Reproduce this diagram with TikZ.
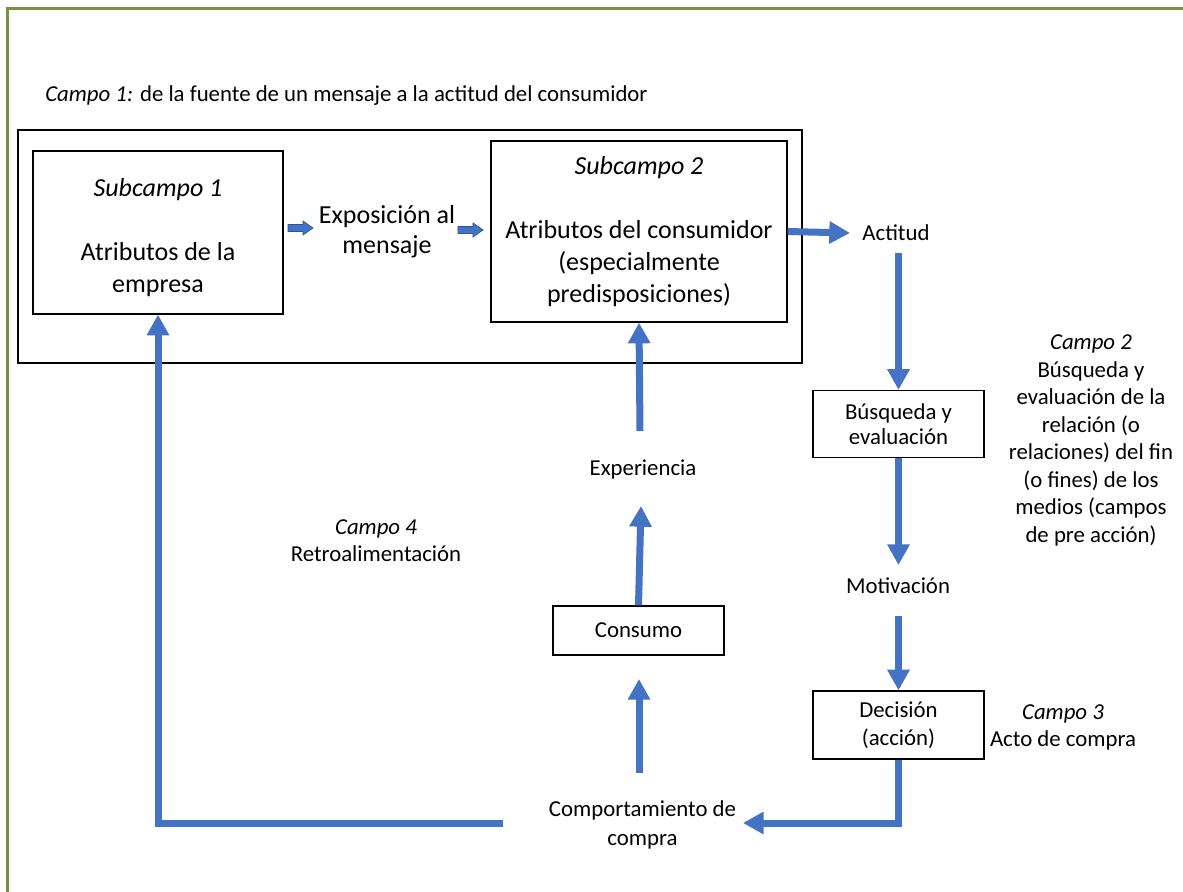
\documentclass[tikz,border=0pt]{standalone}
\usepackage{fontspec}
\setmainfont{Carlito}
\usetikzlibrary{arrows.meta,calc}
\newdimen\px \px=0.75pt
\definecolor{arrblue}{HTML}{4472C4}
\definecolor{arrdark}{HTML}{2F528F}
\definecolor{olivegreen}{HTML}{77933C}
\begin{document}
\begin{tikzpicture}[x=0.75pt,y=-0.75pt,
  box/.style={draw=black, line width=1pt, inner sep=0pt, align=center},
  txt/.style={inner sep=0pt, align=center},
  big/.style={font=\fontsize{19.5}{24}\selectfont},
  small/.style={font=\fontsize{17.1}{20.6}\selectfont},
  conn/.style={draw=arrblue, line width=5.25pt, -{Triangle[width=16pt,length=15.5pt]}},
  blockarr/.style={fill=arrblue, draw=arrdark, line width=0.5pt}]

\useasboundingbox (0,0) rectangle (1183,892);
\fill[white] (0,0) rectangle (1183,892);
\draw[olivegreen, line width=2.25pt] (7,892) -- (7,9) -- (1183,9);

% Campo 1
\node[small, txt, anchor=mid west] (c1) at (45,98) {\textit{Campo 1:} de la fuente de un mensaje a la actitud del consumidor};
\node[draw=black, line width=1pt, minimum width=784\px, minimum height=233\px, inner sep=0pt] (outer) at (410,246.5) {};

\node[box, minimum width=250\px, minimum height=163\px] (s1) at (158,232.5) {};
\node[txt, big] (s1text) at (158,238) {\textit{Subcampo 1}\\[24pt]Atributos de la\\empresa};
\node[txt, font=\fontsize{19.5}{22.5}\selectfont] (expo) at (387,232) {Exposición al\\mensaje};
\node[box, big, minimum width=296\px, minimum height=181\px] (s2) at (639,231.5)
  {\textit{Subcampo 2}\\[24pt]Atributos del consumidor\\(especialmente\\predisposiciones)};

\fill[blockarr] (288,224.5) -- (303,224.5) -- (303,221) -- (313,228) -- (303,235) -- (303,231.5) -- (288,231.5) -- cycle;
\fill[blockarr] (458,226.5) -- (473,226.5) -- (473,223) -- (483,230) -- (473,237) -- (473,233.5) -- (458,233.5) -- cycle;

% right column
\node[small, txt] (actitud) at (896,233) {Actitud};
\node[box, font=\fontsize{17.1}{18.75}\selectfont, minimum width=171\px, minimum height=67\px] (bus) at (898.5,424) {Búsqueda y\\evaluación};
\node[small, txt] (motiv) at (898,586) {Motivación};
\node[box, font=\fontsize{17.1}{21}\selectfont, minimum width=171\px, minimum height=68\px] (dec) at (898.5,725) {Decisión\\(acción)};

\node[small, txt] (campo2) at (1091,440.5) {\textit{Campo 2}\\Búsqueda y\\evaluación de la\\relación (o\\relaciones) del fin\\(o fines) de los\\medios (campos\\de pre acción)};
\node[txt, font=\fontsize{17.1}{20.25}\selectfont] (campo3) at (1063,727) {\textit{Campo 3}\\Acto de compra};

% middle column
\node[txt, font=\fontsize{17.1}{21.75}\selectfont] (comp) at (642.5,824.5) {Comportamiento de\\compra};
\node[box, small, minimum width=171\px, minimum height=49\px] (consumo) at (638.5,630.5) {Consumo};
\node[small, txt] (exper) at (643,469.5) {Experiencia};
\node[txt, font=\fontsize{17.1}{20.25}\selectfont] (campo4) at (376,541) {\textit{Campo 4}\\Retroalimentación};

% free ends
\coordinate (actin) at (850,233);
\coordinate (actout) at (898.5,253);
\coordinate (motin) at (898.5,565);
\coordinate (motout) at (898.5,616);
\coordinate (compin) at (743,823);
\coordinate (compout) at (639,773);
\coordinate (consin) at (639,679);
\coordinate (expin) at (641,506);
\coordinate (expout) at (640,431);
\coordinate (fbstart) at (503,823);

\draw[conn] (s2.east) -- (actin);
\draw[conn] (actout) -- (bus.north);
\draw[conn] (bus.south) -- (motin);
\draw[conn] (motout) -- (dec.north);
\draw[conn] (dec.south) |- (compin);
\draw[conn] (compout) -- (consin);
\draw[conn] (consumo.north) -- (expin);
\draw[conn] (expout) -- (s2.south);
\draw[conn] (fbstart) -| (s1.south);
\end{tikzpicture}
\end{document}
